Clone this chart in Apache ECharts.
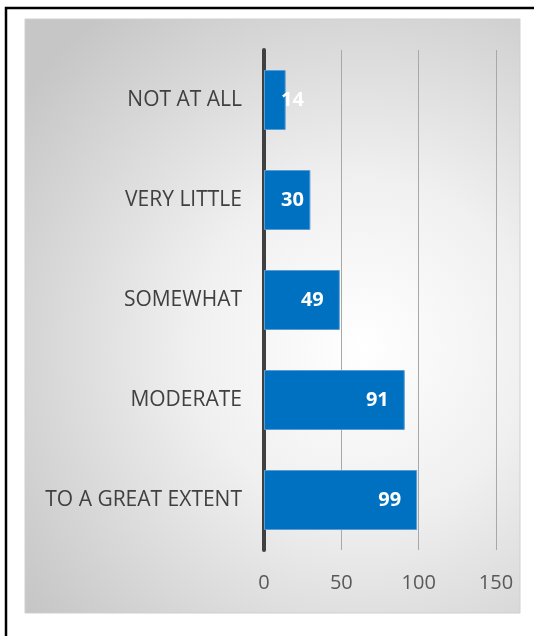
<!DOCTYPE html>
<html>
<head>
<meta charset="utf-8">
<script src="https://cdn.jsdelivr.net/npm/echarts@6/dist/echarts.min.js"></script>
<style>
html,body{margin:0;padding:0;background:#fff;}
#c{width:534px;height:636px;}
</style>
</head>
<body>
<div id="c"></div>
<script>
var categories = ["NOT AT ALL", "VERY LITTLE", "SOMEWHAT", "MODERATE", "TO A GREAT EXTENT"];
var values = [14, 30, 49, 91, 99];
var xTicks = [0, 50, 100, 150];

var chart = echarts.init(document.getElementById('c'), null, {renderer: 'canvas'});

var seriesData = values.map(function (v) {
  var item = {value: v};
  if (v < 40) {
    item.label = {position: 'insideLeft', distance: 17};
  }
  return item;
});

chart.setOption({
  animation: false,
  graphic: [
    {
      type: 'rect', z: -10, silent: true,
      shape: {x: 6, y: 8, width: 700, height: 700},
      style: {fill: '#ffffff', stroke: '#000000', lineWidth: 2.5}
    },
    {
      type: 'rect', z: -9, silent: true,
      shape: {x: 25, y: 19, width: 495, height: 594},
      style: {
        fill: new echarts.graphic.RadialGradient(0.68, 0.55, 0.85, [
          {offset: 0, color: '#ffffff'},
          {offset: 0.4, color: '#f0f0f0'},
          {offset: 1, color: '#c6c6c6'}
        ]),
        stroke: '#cfcfcf', lineWidth: 1
      }
    }
  ],
  grid: {left: 264, right: 38, top: 50, bottom: 86, containLabel: false},
  xAxis: {
    type: 'value',
    min: xTicks[0],
    max: xTicks[xTicks.length - 1],
    interval: xTicks[1] - xTicks[0],
    axisLine: {show: false},
    axisTick: {show: false},
    splitLine: {show: true, lineStyle: {color: '#a8a8a8', width: 1}},
    axisLabel: {
      color: '#595959',
      fontFamily: 'Open Sans',
      fontSize: 20,
      margin: 23
    }
  },
  yAxis: {
    type: 'category',
    data: categories,
    inverse: true,
    axisLine: {show: true, lineStyle: {color: '#404040', width: 4}},
    axisTick: {show: false},
    splitLine: {show: false},
    axisLabel: {
      color: '#404040',
      fontFamily: 'Open Sans',
      fontSize: 21,
      margin: 22
    }
  },
  series: [{
    type: 'bar',
    data: seriesData,
    barCategoryGap: '40%',
    itemStyle: {color: '#0070C0', borderColor: '#5B9BD5', borderWidth: 1},
    label: {
      show: true,
      position: 'insideRight',
      distance: 16,
      color: '#ffffff',
      fontFamily: 'Open Sans',
      fontWeight: 'bold',
      fontSize: 20
    }
  }]
});
</script>
</body>
</html>
